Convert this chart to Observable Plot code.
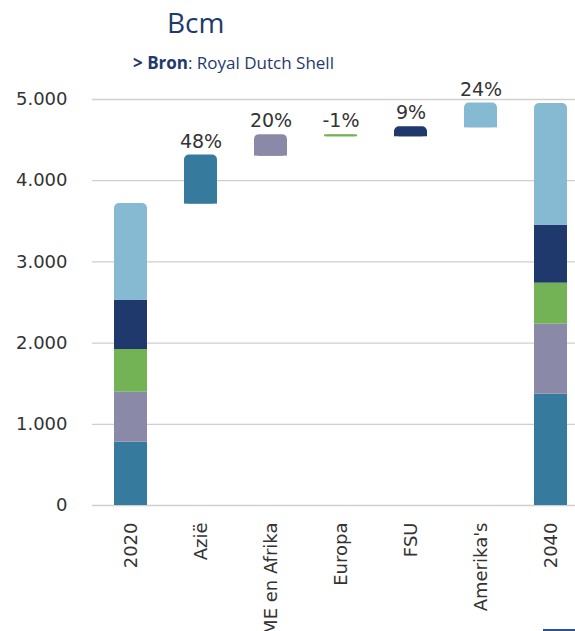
<!DOCTYPE html>
<html>
<head>
<meta charset="utf-8">
<script src="https://cdn.jsdelivr.net/npm/d3@7"></script>
<script src="https://cdn.jsdelivr.net/npm/@observablehq/plot@0.6"></script>
<style>
  html, body { margin: 0; padding: 0; background: #fff; overflow: hidden; }
  #wrap { position: relative; width: 575px; height: 631px; overflow: hidden; }
  #header { position: relative; height: 75px; }
  #title { position: absolute; left: 167px; top: 8px; font: 28px/1 "Open Sans", sans-serif; color: #1f3a6e; white-space: nowrap; }
  #subtitle { position: absolute; left: 133px; top: 54px; font: 17px/1 "Open Sans", sans-serif; color: #1f3a6e; white-space: nowrap; }
  #legendfrag { position: absolute; left: 543px; top: 629px; width: 32px; height: 2px; background: #34518f; }
</style>
</head>
<body>
<div id="wrap">
  <div id="header">
    <div id="title">Bcm</div>
    <div id="subtitle"><b>&gt; Bron</b>: Royal Dutch Shell</div>
  </div>
  <div id="chart"></div>
  <div id="legendfrag"></div>
</div>
<script>
const categories = ["2020", "Azië", "ME en Afrika", "Europa", "FSU", "Amerika's", "2040"];
const regions = ["Azië", "ME en Afrika", "Europa", "FSU", "Amerika's"];
const values2020 = [780, 615, 526, 607, 1191];
const values2040 = [1371, 862, 505, 714, 1499];
const deltas = [591, 250, -12, 110, 291];
const shareLabels = ["48%", "20%", "-1%", "9%", "24%"];
const yTicks = [0, 1000, 2000, 3000, 4000, 5000];
const colors = ["#367a9e", "#8a8aa8", "#74b355", "#1f396c", "#86bad3"];

// stacked totals
function stackRows(cat, vals) {
  let acc = 0;
  return vals.map((v, i) => {
    const r = { cat, region: regions[i], y1: acc, y2: acc + v, top: i === vals.length - 1 };
    acc += v;
    return r;
  });
}
const stacked = [...stackRows("2020", values2020), ...stackRows("2040", values2040)];

// waterfall
let start = d3.sum(values2020);
const waterfall = deltas.map((d, i) => {
  const r = { cat: regions[i], region: regions[i], y1: start, y2: start + d, label: shareLabels[i] };
  start += d;
  return r;
});

const squareRows = stacked.filter(d => !d.top);
const topRows = stacked.filter(d => d.top);
const topOverlay = topRows.map(d => ({ cat: d.cat, region: d.region, y1: d.y1, y2: (d.y1 + d.y2) / 2 }));
const wfOverlay = waterfall.map(d => {
  const lo = Math.min(d.y1, d.y2), hi = Math.max(d.y1, d.y2);
  return { cat: d.cat, region: d.region, y1: lo, y2: (lo + hi) / 2 };
});
const labelRows = waterfall.map(d => ({ cat: d.cat, top: Math.max(d.y1, d.y2), label: d.label }));

const nl = d3.formatLocale({ decimal: ",", thousands: ".", grouping: [3], currency: ["", ""] });
const fmt = nl.format(",");

const chart = Plot.plot({
  width: 575,
  height: 556,
  marginLeft: 92,
  marginRight: 0,
  marginTop: 24,
  marginBottom: 126,
  style: { fontFamily: "'DejaVu Sans', sans-serif", fontSize: "18px", color: "#333", background: "#fff" },
  x: {
    domain: categories,
    range: [92, 588],
    paddingInner: 0.53,
    paddingOuter: 0.284,
    tickRotate: -90,
    tickSize: 0,
    tickPadding: 17,
    label: null
  },
  y: {
    domain: [0, 5000],
    ticks: yTicks,
    tickFormat: fmt,
    tickSize: 0,
    tickPadding: 25,
    label: null
  },
  color: { domain: regions, range: colors },
  marks: [
    Plot.ruleY(yTicks, { stroke: "#cfcfcf", strokeWidth: 1.3 }),
    Plot.barY(squareRows, { x: "cat", y1: "y1", y2: "y2", fill: "region" }),
    Plot.barY(topRows, { x: "cat", y1: "y1", y2: "y2", fill: "region", rx: 5 }),
    Plot.barY(topOverlay, { x: "cat", y1: "y1", y2: "y2", fill: "region" }),
    Plot.barY(waterfall, { x: "cat", y1: "y1", y2: "y2", fill: "region", rx: 5, insetTop: -0.6, insetBottom: -0.6 }),
    Plot.barY(wfOverlay, { x: "cat", y1: "y1", y2: "y2", fill: "region", insetTop: -0.6, insetBottom: -0.6 }),
    Plot.text(labelRows, { x: "cat", y: "top", text: "label", dy: -8, lineAnchor: "bottom", fontSize: 19, fill: "#333" })
  ]
});
document.getElementById("chart").appendChild(chart);
</script>
</body>
</html>
